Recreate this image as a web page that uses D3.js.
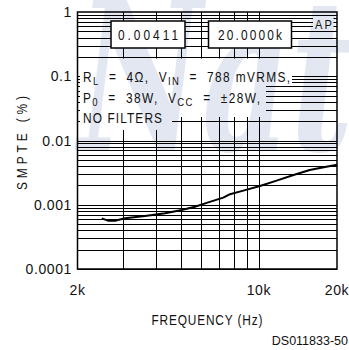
<!DOCTYPE html>
<html><head><meta charset="utf-8">
<script src="https://cdn.jsdelivr.net/npm/d3@7"></script>
<style>body{margin:0;background:#fff} svg{display:block}</style></head>
<body>
<svg id="c" width="349" height="350" xmlns="http://www.w3.org/2000/svg"></svg>
<script>
// ---- data ----
const freq  = [2480, 2620, 2790, 3050, 3640, 4350, 5040, 5670, 6380, 7290, 7740, 8710, 10100, 11700, 13600, 15700, 18200, 20000];
const smpte = [0.000615, 0.000565, 0.000565, 0.000615, 0.000668, 0.000736, 0.000828, 0.000933, 0.00109, 0.00129, 0.00146, 0.00166, 0.00196, 0.00237, 0.00290, 0.00347, 0.00391, 0.00420];
const yTickValues = [1, 0.1, 0.01, 0.001, 0.0001];
const yTickLabels = ["1", "0.1", "0.01", "0.001", "0.0001"];
const xTickValues = [2000, 10000, 20000];
const xTickLabels = ["2k", "10k", "20k"];
const xGridValues = [3000, 4000, 5000, 6000, 7000, 8000, 9000, 10000];
const yGridMultipliers = [1, 2, 3, 4, 5, 6, 7, 8, 9];
const yGridDecades = [0.0001, 0.001, 0.01, 0.1];
const readouts = ["0.00411", "20.0000k"];

// ---- layout ----
const L = 77.5, R = 337, T = 12, B = 269;
const svg = d3.select("#c");
const x = d3.scaleLog().domain([2000, 20000]).range([L, R]);
const y = d3.scaleLog().domain([0.0001, 1]).range([B, T]);
const FONT = "'Liberation Sans', Arial, sans-serif";
const NB = "\u00A0";
const SQ = 0.82; // horizontal squeeze for the condensed lettering

// watermark
svg.append("text")
  .attr("x", 0).attr("y", 0)
  .attr("transform", "translate(78,150) scale(0.8,1.25)")
  .attr("font-family", "'DejaVu Serif', serif")
  .attr("font-weight", "bold").attr("font-style", "italic")
  .attr("font-size", 170).attr("fill", "#e3e7f2")
  .text("Nat");

// mask for the grid (gaps behind annotation text)
const defs = svg.append("defs");
const mask = defs.append("mask").attr("id", "gridmask").attr("maskUnits", "userSpaceOnUse")
  .attr("x", 0).attr("y", 0).attr("width", 349).attr("height", 350);
mask.append("rect").attr("x", 0).attr("y", 0).attr("width", 349).attr("height", 350).attr("fill", "#fff");
const gaps = [
  [80, 58.5, 292, 84],
  [80, 84, 266, 117],
  [80, 117, 172, 130],
  [313, 16.5, 333.5, 29]
];
gaps.forEach(g => mask.append("rect").attr("x", g[0]).attr("y", g[1])
  .attr("width", g[2] - g[0]).attr("height", g[3] - g[1]).attr("fill", "#000"));

const grid = svg.append("g").attr("mask", "url(#gridmask)")
  .attr("stroke", "#000").attr("stroke-width", 1).attr("fill", "none");

const yGrid = [];
yGridDecades.forEach(d => yGridMultipliers.forEach(m => yGrid.push(d * m)));
grid.selectAll("line.h").data(yGrid).join("line").attr("class", "h")
  .attr("x1", L).attr("x2", R)
  .attr("y1", d => Math.round(y(d)) + 0.5).attr("y2", d => Math.round(y(d)) + 0.5);
grid.selectAll("line.v").data(xGridValues).join("line").attr("class", "v")
  .attr("y1", T).attr("y2", B)
  .attr("x1", d => Math.round(x(d)) + 0.5).attr("x2", d => Math.round(x(d)) + 0.5);

// curve
const line = d3.line().x((d, i) => x(freq[i])).y(d => y(d));
svg.append("path").datum(smpte).attr("d", line)
  .attr("fill", "none").attr("stroke", "#000").attr("stroke-width", 2)
  .attr("stroke-linejoin", "round");

// frame
svg.append("rect").attr("x", L).attr("y", T).attr("width", R - L).attr("height", B - T)
  .attr("fill", "none").attr("stroke", "#000").attr("stroke-width", 1.5);

// condensed text helper
function cond(x0, y0, len, size, parts, rot) {
  const t = svg.append("text").attr("x", 0).attr("y", 0)
    .attr("transform", `translate(${x0},${y0})${rot ? " rotate(-90)" : ""} scale(${SQ},1)`)
    .attr("font-family", FONT).attr("font-size", size).attr("fill", "#111")
    .attr("textLength", len / SQ).attr("lengthAdjust", "spacing");
  parts.forEach(p => {
    const s = t.append("tspan").text(p[0].replace(/ /g, NB));
    if (p[1]) s.attr("baseline-shift", "-25%").attr("font-size", size * 0.8);
  });
  return t;
}

// readout boxes
const boxes = [[111, 185, 60], [208.5, 291.5, 64]];
boxes.forEach((b, i) => {
  svg.append("rect").attr("x", b[0]).attr("y", 21).attr("width", b[1] - b[0]).attr("height", 27)
    .attr("fill", "#fff").attr("stroke", "#000").attr("stroke-width", 1.5);
  cond((b[0] + b[1]) / 2 - b[2] / 2, 39.5, b[2], 14.5, [[readouts[i]]]);
});
cond(315, 28.5, 17, 13.5, [["AP"]]);

// annotation
cond(83, 82, 207, 14.5, [["R"], ["L", 1], ["  =  4Ω,  V"], ["IN", 1], ["  =  788 mVRMS,"]]);
cond(83, 102.5, 177, 14.5, [["P"], ["0", 1], ["  =  38W,  V"], ["CC", 1], ["  =  ±28W,"]]);
cond(83, 122.5, 79, 14.5, [["NO FILTERS"]]);

// axes labels
const tl = svg.append("g").attr("font-family", FONT).attr("font-size", 14).attr("fill", "#111");
tl.selectAll("text.y").data(yTickValues).join("text").attr("class", "y")
  .attr("x", 72).attr("y", d => y(d) + 5).attr("text-anchor", "end")
  .attr("letter-spacing", 0.6)
  .text((d, i) => yTickLabels[i]);
tl.selectAll("text.x").data(xTickValues).join("text").attr("class", "x")
  .attr("x", d => x(d)).attr("y", 295).attr("text-anchor", "middle")
  .attr("letter-spacing", 0.6)
  .text((d, i) => xTickLabels[i]);

cond(151.5, 325, 111, 14.5, [["FREQUENCY (Hz)"]]);
cond(27, 190, 94, 14.5, [["SMPTE (%)"]], true);
svg.append("text").attr("x", 348).attr("y", 345).attr("text-anchor", "end")
  .attr("font-family", FONT).attr("font-size", 12.5).attr("fill", "#111")
  .text("DS011833-50");
</script>
</body></html>
